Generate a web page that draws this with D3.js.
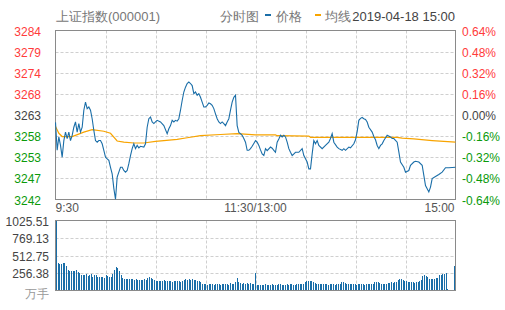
<!DOCTYPE html>
<html>
<head>
<meta charset="utf-8">
<script src="https://cdn.jsdelivr.net/npm/d3@7/dist/d3.min.js"></script>
<style>
  body { margin: 0; background: #fff; }
  svg { display: block; font-family: "Liberation Sans", Arial, sans-serif; }
</style>
</head>
<body>
<svg id="chart" width="505" height="310"></svg>
<script>
// 上证指数 2019-04-18 intraday, prev close 3263.12
const prevClose = 3263.12;
const priceTicks = ['3284', '3279', '3274', '3268', '3263', '3258', '3253', '3247', '3242'];
const pctTicks = ['0.64%', '0.48%', '0.32%', '0.16%', '0.00%', '-0.16%', '-0.32%', '-0.48%', '-0.64%'];
const timeLabels = ['9:30', '11:30/13:00', '15:00'];
const volTicks = [1025.51, 769.13, 512.75, 256.38];

// minute index (0 = 9:30, 120 = 11:30/13:00, 240 = 15:00) and price
const priceMinutes = [0,1,2,3,4,5,6,7,8,9,10,11,12,13,14,15,16,17,18,19,20,21,22,23,24,25,26,27,28,29,
  30,31,32,33,34,35,36,37,38,39,40,41,42,43,44,45,46,47,48,49,50,51,53,54,55,56,57,58,59,60,61,63,65,67,
  68,69,70,71,72,73,74,75,76,77,78,79,80,81,82,83,84,85,86,87,88,89,90,91,92,93,94,95,96,97,98,99,100,
  101,102,103,104,105,106,107,108,109,110,111,112,113,114,115,116,117,118,119,120,121,122,123,124,125,
  126,127,129,130,131,132,133,134,135,136,137,138,139,140,141,142,144,146,148,149,151,152,153,154,155,
  156,157,158,160,162,164,165,166,167,169,170,172,173,174,176,177,179,180,181,182,183,184,185,186,187,
  188,190,191,192,193,194,195,196,197,199,201,202,203,205,206,207,209,210,212,213,215,216,218,220,221,
  222,224,225,226,228,230,232,234,236,240];
const priceValues = [3261.3,3254.4,3257.7,3255.6,3252.7,3256.8,3258.9,3257.3,3258.9,3256.8,3258.1,3260.1,
  3261.4,3258.9,3261.0,3258.9,3260.1,3264.3,3266.3,3264.7,3265.1,3264.3,3262.2,3259.3,3256.8,3256.4,
  3256.8,3256.8,3256.0,3254.4,3252.7,3252.3,3251.9,3250.2,3248.6,3245.0,3242.3,3247.8,3249.0,3250.2,
  3250.2,3249.4,3249.0,3249.4,3251.1,3253.1,3254.8,3256.0,3254.8,3255.6,3255.0,3255.4,3255.2,3256.0,
  3260.1,3262.2,3262.6,3261.4,3261.0,3261.4,3261.8,3261.4,3260.5,3258.5,3259.7,3260.5,3261.8,3261.4,
  3261.8,3261.6,3262.2,3264.3,3266.7,3268.8,3270.0,3270.9,3271.3,3270.9,3270.4,3268.4,3268.8,3268.0,
  3268.4,3267.5,3266.3,3265.1,3265.1,3265.5,3266.1,3265.9,3265.5,3264.7,3263.4,3262.2,3261.4,3261.0,
  3261.4,3261.0,3260.5,3261.4,3262.2,3264.3,3266.3,3267.5,3268.0,3260.5,3258.8,3258.5,3258.1,3257.3,
  3256.4,3254.4,3254.4,3254.8,3255.4,3256.1,3256.8,3256.4,3255.6,3254.5,3253.5,3253.1,3254.8,3254.3,
  3255.2,3254.9,3254.4,3253.9,3256.4,3257.2,3258.1,3257.7,3258.1,3257.7,3256.4,3254.8,3253.9,3253.1,
  3253.9,3253.9,3254.8,3253.1,3251.5,3249.8,3249.8,3253.5,3256.8,3256.0,3256.8,3255.6,3254.8,3255.6,
  3256.4,3257.3,3258.5,3256.4,3255.2,3254.8,3254.4,3254.8,3254.4,3255.2,3255.0,3256.0,3257.0,3259.0,
  3261.8,3262.3,3262.5,3262.2,3262.0,3261.4,3260.1,3258.9,3257.8,3257.0,3255.6,3254.8,3255.6,3256.0,
  3256.8,3258.1,3257.7,3257.3,3257.3,3256.4,3254.0,3251.5,3250.2,3249.0,3249.4,3250.7,3251.5,3251.7,
  3251.5,3250.7,3248.2,3245.7,3244.1,3245.3,3247.4,3247.9,3248.4,3249.0,3250.1,3250.1,3250.2];

// 均线 (average price)
const avgMinutes = [0,2,4,10,17,22,29,33,37,41,47,53,60,65,73,79,87,99,109,120,132,133,152,153,205,208,215,226,233,240];
const avgValues = [3260.3,3258.6,3257.8,3257.8,3258.9,3259.5,3259.1,3258.6,3256.7,3256.4,3256.2,3256.2,
  3256.6,3256.8,3257.1,3257.5,3258.0,3258.3,3258.5,3258.2,3258.2,3258.0,3257.9,3257.6,3257.6,3257.4,
  3257.2,3256.8,3256.6,3256.4];

// volume per minute, 万手
const volumes = [1025.51,400,391,395,410,400,366,303,293,290,
  293,283,303,274,250,234,220,229,244,215,
  225,244,205,220,220,205,200,195,205,186,
  220,210,195,200,244,303,342,332,290,234,
  186,171,166,166,170,166,175,161,166,160,
  155,160,150,165,160,186,195,190,166,150,
  146,140,135,145,138,150,132,140,136,142,
  130,138,145,135,140,128,136,150,166,160,
  170,155,166,150,160,140,145,130,95,88,
  92,85,90,88,95,86,90,92,88,84,
  90,95,88,92,86,110,95,98,120,186,
  118,105,100,110,95,115,98,117,92,88,
  254,82,86,78,84,80,88,83,79,86,
  90,82,85,80,88,92,84,86,80,90,
  85,88,92,86,82,90,95,88,92,98,
  130,137,146,140,135,125,110,98,95,90,
  92,88,95,90,86,92,88,94,85,90,
  88,92,122,120,110,95,98,92,88,95,
  90,86,92,95,88,90,84,92,96,90,
  95,100,122,118,125,115,98,92,100,95,
  117,110,120,112,118,125,150,171,165,160,
  146,140,122,118,125,120,115,122,130,146,
  150,215,220,210,205,171,165,170,175,186,
  180,220,225,235,244,254,15,0,0,0,
  366];

const BLUE = '#1a6ea8', ORANGE = '#f8a400', RED = '#ff3b3b', GREEN = '#0a9a0a';
const GRID = '#cfcfcf', BORDER = '#8a8a8a';

const svg = d3.select('#chart');
const L = 55.5, R = 455.5;
const pTop = 30.5, pBot = 199.5;
const vTop = 220.5, vBot = 290.5;

const x = d3.scaleLinear().domain([0, 240]).range([L, R]);
const xb = d3.scaleLinear().domain([0, 240]).range([56, 454]);
const y = d3.scaleLinear().domain([prevClose * (1 - 0.0064), prevClose * (1 + 0.0064)]).range([pBot, pTop]);
const yv = d3.scaleLinear().domain([0, volTicks[0]]).range([vBot, vTop]);
const tickPos = d3.scaleLinear().domain([0, priceTicks.length - 1]).range([pTop, pBot]);
const colorFor = i => i < 4 ? RED : (i === 4 ? '#444' : GREEN);

// header
const head = svg.append('g').attr('font-size', 13).attr('fill', '#777');
head.append('text').attr('x', 56).attr('y', 21).text('上证指数(000001)');
head.append('text').attr('x', 220).attr('y', 21).text('分时图');
head.append('line').attr('x1', 265).attr('x2', 271).attr('y1', 15).attr('y2', 15)
  .attr('stroke', BLUE).attr('stroke-width', 2);
head.append('text').attr('x', 276).attr('y', 21).text('价格');
head.append('line').attr('x1', 315).attr('x2', 321).attr('y1', 15).attr('y2', 15)
  .attr('stroke', ORANGE).attr('stroke-width', 2);
head.append('text').attr('x', 325).attr('y', 21).text('均线');
head.append('text').attr('x', 455).attr('y', 21).attr('text-anchor', 'end').attr('fill', '#444')
  .text('2019-04-18 15:00');

// grid
const grid = svg.append('g').attr('stroke', GRID).attr('stroke-dasharray', '3,2');
d3.range(30, 240, 30).forEach(m => {
  grid.append('line').attr('x1', Math.round(x(m)) + 0.5).attr('x2', Math.round(x(m)) + 0.5)
    .attr('y1', pTop).attr('y2', pBot);
  grid.append('line').attr('x1', Math.round(x(m)) + 0.5).attr('x2', Math.round(x(m)) + 0.5)
    .attr('y1', vTop).attr('y2', vBot);
});
priceTicks.forEach((t, i) => {
  if (i === 0 || i === priceTicks.length - 1) return;
  const yy = Math.round(tickPos(i)) + 0.5;
  grid.append('line').attr('x1', L).attr('x2', R).attr('y1', yy).attr('y2', yy);
});
volTicks.slice(1).forEach(v => {
  const yy = Math.round(yv(v)) + 0.5;
  grid.append('line').attr('x1', L).attr('x2', R).attr('y1', yy).attr('y2', yy);
});

// axis labels
const lab = svg.append('g').attr('font-size', 12);
priceTicks.forEach((t, i) => {
  lab.append('text').attr('x', 41).attr('y', tickPos(i)).attr('dy', '0.42em')
    .attr('text-anchor', 'end').attr('fill', colorFor(i)).text(t);
});
pctTicks.forEach((t, i) => {
  lab.append('text').attr('x', 462).attr('y', tickPos(i)).attr('dy', '0.42em')
    .attr('fill', colorFor(i)).text(t);
});
const tAnchor = ['start', 'middle', 'end'];
[0, 120, 240].forEach((m, i) => {
  lab.append('text').attr('x', x(m) + (i === 2 ? -1 : 0)).attr('y', 211.5)
    .attr('text-anchor', tAnchor[i]).attr('fill', '#555').text(timeLabels[i]);
});
volTicks.forEach(v => {
  lab.append('text').attr('x', 49).attr('y', yv(v)).attr('dy', '0.42em')
    .attr('text-anchor', 'end').attr('fill', '#444').text(v.toFixed(2));
});
lab.append('text').attr('x', 49).attr('y', 293).attr('dy', '0.38em')
  .attr('text-anchor', 'end').attr('fill', '#999').text('万手');

// boxes
[[pTop, pBot], [vTop, vBot]].forEach(([t, b]) => {
  svg.append('rect').attr('x', L).attr('y', t).attr('width', R - L).attr('height', b - t)
    .attr('fill', 'none').attr('stroke', BORDER);
});

// volume bars (inside the box)
svg.append('g').selectAll('rect').data(volumes).join('rect')
  .attr('x', (d, i) => Math.round(xb(i)))
  .attr('width', 1)
  .attr('y', d => Math.round(yv(d)))
  .attr('height', d => Math.round(vBot - 0.5) - Math.round(yv(d)))
  .attr('fill', BLUE);

// lines
const priceData = priceMinutes.map((m, i) => [m, priceValues[i]]);
const avgData = avgMinutes.map((m, i) => [m, avgValues[i]]);
const line = d3.line().x(d => x(d[0])).y(d => y(d[1]));
svg.append('path').datum(avgData).attr('d', line)
  .attr('fill', 'none').attr('stroke', ORANGE).attr('stroke-width', 1.2);
svg.append('path').datum(priceData).attr('d', line)
  .attr('fill', 'none').attr('stroke', BLUE).attr('stroke-width', 1.1);
</script>
</body>
</html>
